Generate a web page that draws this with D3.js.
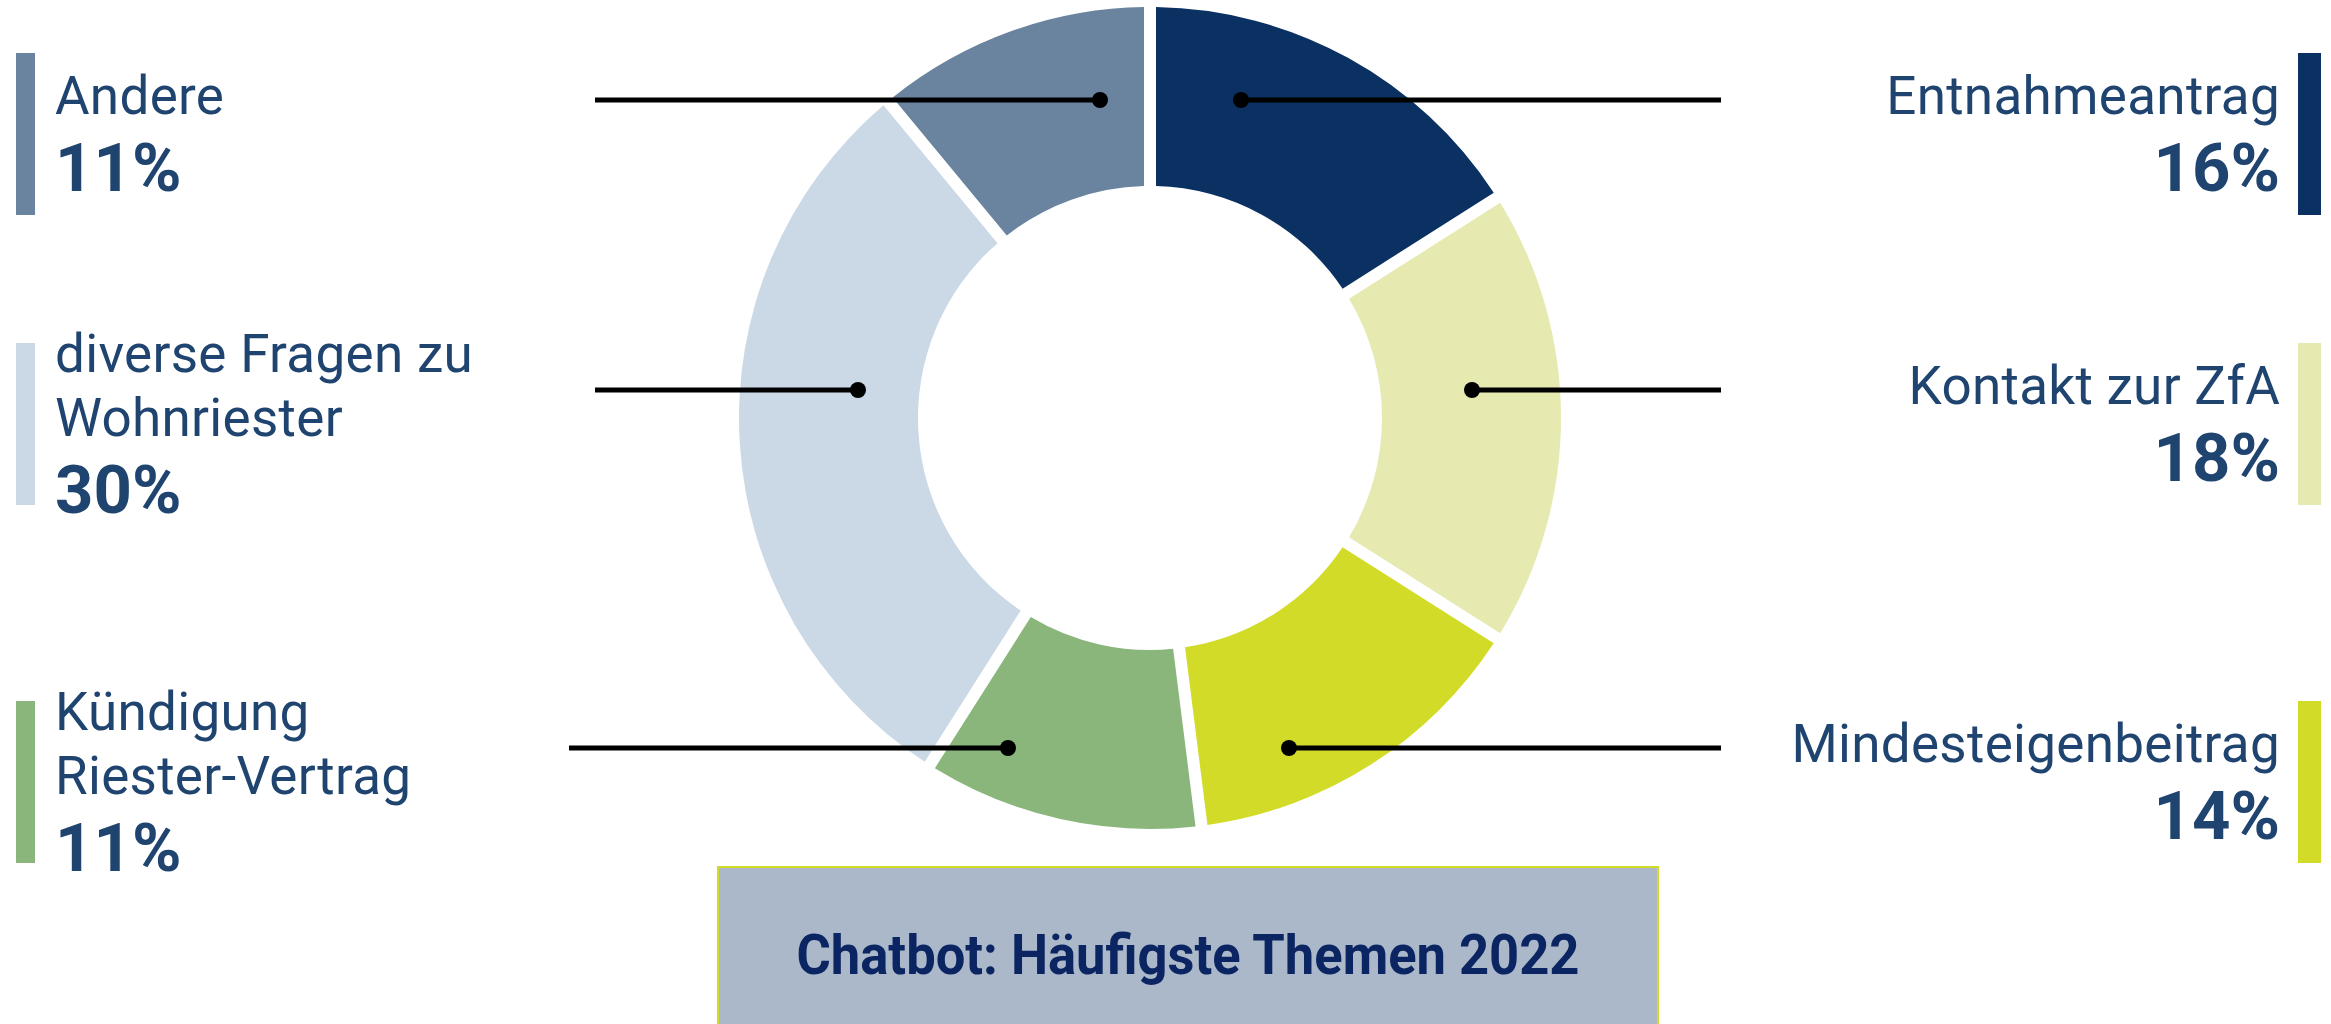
<!DOCTYPE html>
<html>
<head>
<meta charset="utf-8">
<script src="https://cdn.jsdelivr.net/npm/d3@7"></script>
<style>
  body { margin: 0; background: #fff; }
  svg { display: block; }
</style>
</head>
<body>
<div id="chart"></div>
<script>
// data
var categories = ["Entnahmeantrag", "Kontakt zur ZfA", "Mindesteigenbeitrag", "Kündigung Riester-Vertrag", "diverse Fragen zu Wohnriester", "Andere"]
var labelLines = [["Entnahmeantrag"], ["Kontakt zur ZfA"], ["Mindesteigenbeitrag"], ["Kündigung", "Riester-Vertrag"], ["diverse Fragen zu", "Wohnriester"], ["Andere"]]
var values = [16, 18, 14, 11, 30, 11]
var colors = ["#0a3162", "#e6eab0", "#d2dc28", "#8ab67c", "#cbd9e6", "#6a849f"]
var title = "Chatbot: Häufigste Themen 2022"

// label layout (which side / row, where the leader dot sits)
var labelSide = ["right", "right", "right", "left", "left", "left"]
var labelRow = [0, 1, 2, 2, 1, 0]
var dotDx = [91, 322, 139, -142, -292, -50]
var leaderStart = [595, 595, 569]   // left side, per row
var leaderEnd = 1721                // right side

var width = 2331, height = 1024
var cx = 1150, cy = 418, R = 411, r0 = 232
var rowTop = [53, 343, 701], barH = 162
var textCol = "#1f4470"

var items = categories.map((c, i) => ({name: c, lines: labelLines[i], value: values[i], col: colors[i],
  side: labelSide[i], row: labelRow[i], dx: dotDx[i]}))

var svg = d3.select('#chart').append('svg')
    .attr('width', width).attr('height', height)

var pie = d3.pie().sort(null).value(d => d.value)
var arc = d3.arc().innerRadius(r0).outerRadius(R).padAngle(12 / R).padRadius(R)

var donut = svg.append('g').attr('transform', `translate(${cx},${cy})`)
donut.selectAll('path')
    .data(pie(items))
    .join('path')
    .attr('d', arc)
    .attr('fill', d => d.data.col)

// leader lines + dots
var leaders = svg.append('g')
items.forEach(function(d) {
    var y = rowTop[d.row] + 47
    var x = cx + d.dx
    var x2 = d.side == 'right' ? leaderEnd : leaderStart[d.row]
    leaders.append('line')
        .attr('x1', x).attr('x2', x2).attr('y1', y).attr('y2', y)
        .attr('stroke', '#000').attr('stroke-width', 5)
    leaders.append('circle')
        .attr('cx', x).attr('cy', y).attr('r', 8).attr('fill', '#000')
})

// side labels
var lineH = 64, pctGap = 77
var labels = svg.append('g')
    .attr('font-family', 'Roboto, "Noto Sans", sans-serif')
    .attr('fill', textCol)

items.forEach(function(d) {
    var right = d.side == 'right'
    var top = rowTop[d.row]
    var mid = top + barH / 2
    var total = (d.lines.length - 1) * lineH + pctGap
    var y0 = mid + 18 - total / 2
    var tx = right ? 2280 : 55

    labels.append('rect')
        .attr('x', right ? 2298 : 16).attr('y', top)
        .attr('width', right ? 23 : 19).attr('height', barH)
        .attr('fill', d.col)

    d.lines.forEach(function(l, j) {
        labels.append('text')
            .attr('x', tx).attr('y', y0 + j * lineH)
            .attr('text-anchor', right ? 'end' : 'start')
            .attr('font-size', 53)
            .attr('letter-spacing', 0.3)
            .text(l)
    })
    labels.append('text')
        .attr('x', tx).attr('y', y0 + (d.lines.length - 1) * lineH + pctGap)
        .attr('text-anchor', right ? 'end' : 'start')
        .attr('font-size', 67)
        .attr('font-weight', 700)
        .text(d.value + '%')
})

// title box
var box = svg.append('g')
box.append('rect')
    .attr('x', 718).attr('y', 867).attr('width', 940).attr('height', 200)
    .attr('fill', '#aab8c9')
    .attr('stroke', '#d2dc28').attr('stroke-width', 2)
box.append('text')
    .attr('x', 1188).attr('y', 974)
    .attr('text-anchor', 'middle')
    .attr('font-family', 'Roboto, "Noto Sans", sans-serif')
    .attr('font-size', 55)
    .attr('font-weight', 700)
    .attr('fill', '#0b2562')
    .attr('textLength', 783)
    .attr('lengthAdjust', 'spacingAndGlyphs')
    .text(title)
</script>
</body>
</html>
